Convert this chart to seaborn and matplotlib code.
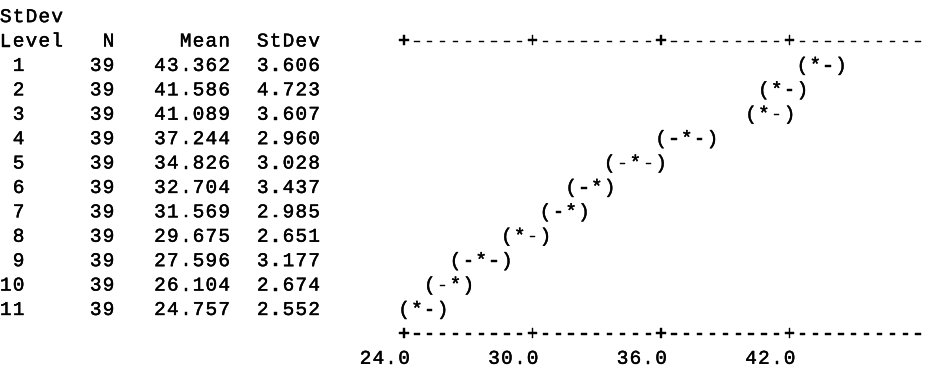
import numpy as np
import matplotlib
matplotlib.use("Agg")
import matplotlib.pyplot as plt
import matplotlib.patheffects as pe
import seaborn as sns

# one-way ANOVA summary (Minitab style character plot)
factor_name = 'StDev'
levels = [1, 2, 3, 4, 5, 6, 7, 8, 9, 10, 11]
n_obs = [39, 39, 39, 39, 39, 39, 39, 39, 39, 39, 39]
means = [43.362, 41.586, 41.089, 37.244, 34.826, 32.704, 31.569, 29.675, 27.596, 26.104, 24.757]
stdevs = [3.606, 4.723, 3.607, 2.960, 3.028, 3.437, 2.985, 2.651, 3.177, 2.674, 2.552]
ticks = [24.0, 30.0, 36.0, 42.0]
t_crit = 1.966  # t(0.975, 418)

sns.set_theme(style='white')
plt.rcParams['font.family'] = ['Liberation Mono', 'DejaVu Sans Mono']

fs = 14
step = (ticks[1] - ticks[0]) / 10  # one character cell in data units
axis_col = 31
x0 = ticks[0]
dy = 0.25
ink = [pe.withStroke(linewidth=0.3, foreground='black')]


def col_x(c):
    return x0 + (c - axis_col) * step


def cell(v):
    # snap a value to its character cell
    return x0 + np.floor((v - x0) / step + 0.5) * step


def char(ax, x, row, ch):
    ax.text(x, row + dy, ch, ha='center', va='baseline', fontsize=fs,
            color='black', path_effects=ink)


def put(ax, s, col, row):
    for i, ch in enumerate(s):
        if ch != ' ':
            char(ax, col_x(col + i), row, ch)


fig = plt.figure(figsize=(9.32, 3.86), dpi=100)
ax = fig.add_axes([0, 0, 1, 1])
ax.set_xlim(col_x(-0.45), col_x(72.08))
ax.set_ylim(15.16, -0.656)
ax.axis('off')

# header
put(ax, factor_name, 0, 0)
put(ax, 'Level', 0, 1)
put(ax, 'N', 8, 1)
put(ax, 'Mean', 14, 1)
put(ax, 'StDev', 20, 1)

# table rows
for i, lev in enumerate(levels):
    row = i + 2
    s = str(lev)
    put(ax, s, 2 - len(s), row)
    s = str(n_obs[i])
    put(ax, s, 9 - len(s), row)
    s = f'{means[i]:.3f}'
    put(ax, s, 18 - len(s), row)
    s = f'{stdevs[i]:.3f}'
    put(ax, s, 25 - len(s), row)

# confidence intervals from pooled stdev
pooled = np.sqrt(np.mean(np.square(stdevs)))
half = t_crit * pooled / np.sqrt(np.array(n_obs))
for i, m in enumerate(means):
    row = i + 2
    lo, hi, mid = cell(m - half[i]), cell(m + half[i]), cell(m)
    for x in np.arange(lo + step, hi - step / 2, step):
        if abs(x - mid) > step / 2:
            char(ax, x, row, '-')
    char(ax, lo, row, '(')
    char(ax, hi, row, ')')
    char(ax, mid, row, '*')

# axis lines made of characters, '+' at the tick values
tick_cols = [int(round((t - x0) / step)) for t in ticks]
axis_chars = ''.join('+' if c in tick_cols else '-' for c in range(0, 41))
put(ax, axis_chars, axis_col, 1)
put(ax, axis_chars, axis_col, 13)
for t, c in zip(ticks, tick_cols):
    s = f'{t:.1f}'
    put(ax, s, axis_col + c - len(s) + 1, 14)

fig.savefig('out.png', dpi=100)
